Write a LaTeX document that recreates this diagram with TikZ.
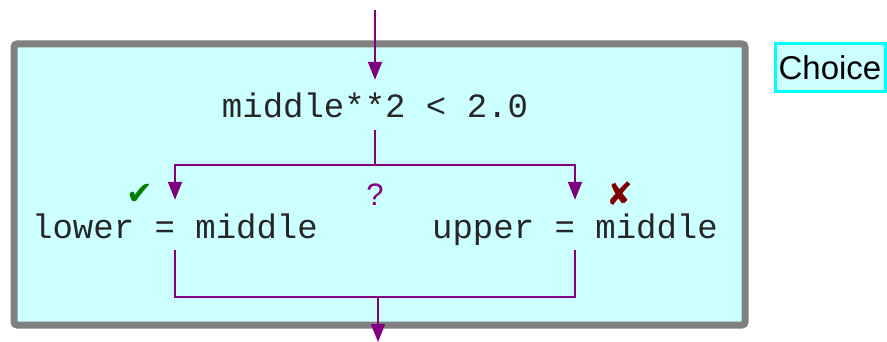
\documentclass[tikz,border=0pt]{standalone}
\usepackage{fontspec}
\setmainfont{Liberation Sans}
\setmonofont{Liberation Mono}
\newfontfamily\symfont{DejaVu Sans}
\usetikzlibrary{arrows.meta}
\definecolor{boxfill}{HTML}{CCFFFF}
\definecolor{boxline}{HTML}{808080}
\definecolor{flowcol}{HTML}{800080}
\definecolor{yescol}{HTML}{008000}
\definecolor{nocol}{HTML}{800000}
\definecolor{tagline}{HTML}{00FFFF}
\tikzset{
  code/.style={inner xsep=0pt, inner ysep=4pt, text height=34pt, text depth=8pt,
    font=\ttfamily\fontsize{34}{40}\selectfont, text=black!85},
  flowline/.style={draw=flowcol, line width=2pt},
  flow/.style={flowline, -{Triangle[length=18pt,width=14pt]}},
  tagbox/.style={draw=tagline, line width=3pt, fill=boxfill, minimum width=110pt,
    minimum height=48pt, inner sep=0pt, font=\fontsize{33}{40}\selectfont}
}
\begin{document}
\begin{tikzpicture}[x=1pt, y=-1pt]
        \useasboundingbox (0,0) rectangle (887,342);
        % Choice frame
        \draw[draw=boxline, fill=boxfill, line width=7pt, rounded corners=3pt] (14,44) rectangle (745,325);
        \node[tagbox] (tag) at (830,68) {Choice};

        % Condition and branches
        \node[code] (cond) at (375,105) {middle**2 < 2.0};
        \node[code] (lower) at (175,225) {lower = middle};
        \node[code] (upper) at (575,225) {upper = middle};
        \node[text=flowcol, font=\fontsize{31}{36}\selectfont] (ask) at (375,195) {?};
        \node[text=yescol, font=\symfont\fontsize{32}{36}\selectfont] (yes) at (140,194) {✔};
        \node[text=nocol, font=\symfont\fontsize{32}{36}\selectfont] (no) at (620,194) {✘};

        \coordinate (in) at (375,10);
        \coordinate (split) at (375,165);
        \coordinate (join) at (378,297);
        \coordinate (out) at (378,342);

        % Flow
        \draw[flow] (in) -- (cond);
        \draw[flowline] (cond) -- (split);
        \draw[flow] (split) -| (lower);
        \draw[flow] (split) -| (upper);
        \draw[flowline] (lower) |- (join) -| (upper);
        \draw[flow] (join) -- (out);
\end{tikzpicture}
\end{document}
